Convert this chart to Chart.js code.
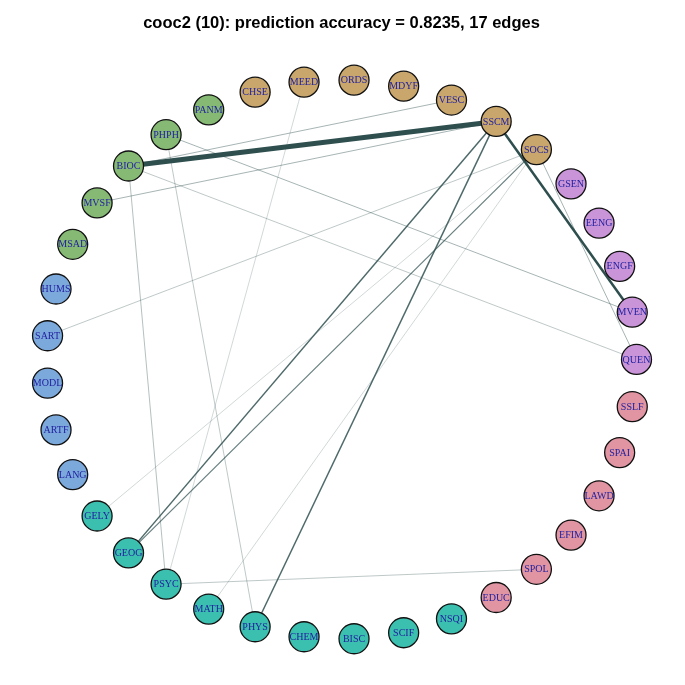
<!DOCTYPE html>
<html>
<head>
<meta charset="utf-8">
<script src="https://cdn.jsdelivr.net/npm/chart.js@4/dist/chart.umd.min.js"></script>
<style>
html,body{margin:0;padding:0;background:#fff;}
#wrap{width:685px;height:685px;}
</style>
</head>
<body>
<div id="wrap"><canvas id="c" width="685" height="685"></canvas></div>
<script>
// Nodes in circle-layout order (index 0 at angle 0, counter-clockwise)
const nodeNames = ["QUEN","MVEN","ENGF","EENG","GSEN","SOCS","SSCM","VESC","MDYF","ORDS","MEED","CHSE",
  "PANM","PHPH","BIOC","MVSF","MSAD","HUMS","SART","MODL","ARTF","LANG","GELY","GEOG","PSYC","MATH",
  "PHYS","CHEM","BISC","SCIF","NSQI","EDUC","SPOL","EFIM","LAWD","SPAI","SSLF"];
const nodeGroups = [5,5,5,5,5,0,0,0,0,0,0,0,1,1,1,1,1,2,2,2,2,2,3,3,3,3,3,3,3,3,3,4,4,4,4,4,4];
const groupColors = ["#C9A66B","#86BA74","#7CA9DC","#3BBFAF","#E194A2","#C994D8"];

// Edges
const edgeFrom   = ["BIOC","SSCM","SSCM","SSCM","SOCS","SOCS","BIOC","MVSF","PHPH","BIOC","PHPH","BIOC","SART","PSYC","MEED","GELY","MATH"];
const edgeTo     = ["SSCM","MVEN","GEOG","PHYS","GEOG","QUEN","VESC","SSCM","MVEN","PSYC","PHYS","QUEN","SOCS","SPOL","PSYC","SOCS","SOCS"];
const edgeWeight = [10,5,3,3,2.5,1.5,1.5,1.5,1.5,1.2,1,1,1,1,0.6,0.6,0.6];

const titleText = "cooc2 (10): prediction accuracy = 0.8235, 17 edges";

// circle layout
const n = nodeNames.length;
const pos = {};
const nodePoints = nodeNames.map((name,i)=>{
  const a = 2*Math.PI*i/n;
  const p = {x:Math.cos(a), y:Math.sin(a)};
  pos[name]=p;
  return p;
});

const datasets = [{
  label:'nodes',
  data: nodePoints,
  pointRadius:15,
  pointHoverRadius:15,
  pointBackgroundColor: nodeGroups.map(g=>groupColors[g]),
  pointBorderColor:'#111',
  pointBorderWidth:1.3,
  showLine:false,
  clip:false
}];
edgeFrom.forEach((f,i)=>{
  const w = edgeWeight[i];
  const alpha = Math.min(1, 0.1 + w*0.25);
  datasets.push({
    label:'edge'+i,
    data:[pos[f], pos[edgeTo[i]]],
    showLine:true,
    pointRadius:0,
    borderColor:`rgba(47,79,79,${alpha})`,
    borderWidth: Math.max(0.9, w*0.5),
    clip:false
  });
});

const labelPlugin = {
  id:'nodeLabels',
  afterDatasetsDraw(chart){
    const ctx = chart.ctx;
    const meta = chart.getDatasetMeta(0);
    ctx.save();
    ctx.font = "10px 'Liberation Serif', serif";
    ctx.fillStyle = "#2222A0";
    ctx.textAlign='center';
    ctx.textBaseline='middle';
    meta.data.forEach((el,i)=>{
      ctx.fillText(nodeNames[i], el.x, el.y+0.5);
    });
    ctx.restore();
  }
};

new Chart(document.getElementById('c'),{
  type:'scatter',
  data:{datasets},
  options:{
    responsive:false,
    animation:false,
    events:[],
    layout:{padding:{left:46.5,right:48.5,top:0,bottom:46}},
    scales:{
      x:{type:'linear',min:-1,max:1,display:false},
      y:{type:'linear',min:-1,max:1,display:false}
    },
    plugins:{
      legend:{display:false},
      tooltip:{enabled:false},
      title:{display:true,text:titleText,color:'#000',
        font:{family:"'Liberation Sans', Arial, sans-serif",size:16.5,weight:'bold',lineHeight:1.2},
        padding:{top:13.5,bottom:46.6}}
    }
  },
  plugins:[labelPlugin]
});
</script>
</body>
</html>
